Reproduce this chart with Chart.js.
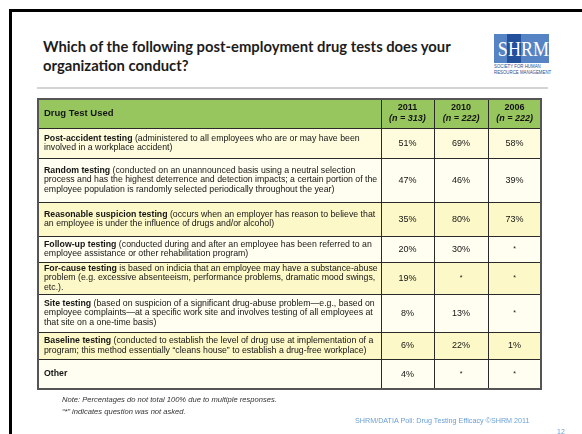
<!DOCTYPE html>
<html><head><meta charset="utf-8">
<script src="https://cdn.jsdelivr.net/npm/chart.js@4"></script>
<style>
html,body{margin:0;padding:0;background:#fff;}
#slide{position:relative;width:582px;height:434px;overflow:hidden;background:#fff;}
#frameTop{position:absolute;left:9px;top:9px;width:573px;height:3px;background:#000;}
#frameLeft{position:absolute;left:9px;top:9px;width:3px;height:425px;background:#000;}
#title{position:absolute;left:43px;top:37px;font:bold 14.8px Lato,sans-serif;color:#1c1c1c;line-height:19px;white-space:nowrap;}
#rule{position:absolute;left:37px;top:87px;width:511px;height:2px;background:#d4d4d4;}
#chartBox{position:absolute;left:0;top:0;width:582px;height:434px;}
#logo{position:absolute;left:494px;top:34px;width:55px;height:29px;background:#5683c4;overflow:hidden;}
#logoH{position:absolute;left:13px;top:0;width:14px;height:29px;background:#23509a;}
#logoText{position:absolute;left:0;top:1px;width:55px;text-align:center;font:21px "Liberation Serif",serif;color:#fff;line-height:28px;transform:scaleX(0.86);}
#logoSub{position:absolute;left:494px;top:64px;font:5.6px "Liberation Sans Narrow","Liberation Sans",sans-serif;color:#2a4a8a;line-height:5.6px;white-space:nowrap;transform:scaleX(0.78);transform-origin:0 0;}
.note{position:absolute;left:62px;font:italic 7.6px "Liberation Sans",sans-serif;color:#333;white-space:nowrap;}
#footer{position:absolute;left:355px;top:416px;font:7.2px "Liberation Sans",sans-serif;color:#6a9fd6;white-space:nowrap;}
#pageNum{position:absolute;left:557px;top:428px;font:7px "Liberation Sans",sans-serif;color:#6a9fd6;}
</style></head>
<body>
<div id="slide">
  <div id="frameTop"></div><div id="frameLeft"></div>
  <div id="title">Which of the following post-employment drug tests does your<br>organization conduct?</div>
  <div id="logo"><div id="logoH"></div><div id="logoText">SHRM</div></div>
  <div id="logoSub">SOCIETY FOR HUMAN<br>RESOURCE MANAGEMENT</div>
  <div id="rule"></div>
  <div id="chartBox"><canvas id="c"></canvas></div>
  <div class="note" style="top:395px">Note: Percentages do not total 100% due to multiple responses.</div>
  <div class="note" style="top:407px">“*” indicates question was not asked.</div>
  <div id="footer">SHRM/DATIA Poll: Drug Testing Efficacy ©SHRM 2011</div>
  <div id="pageNum">12</div>
</div>
<script>
// ---- data ----
const firstHeader = 'Drug Test Used';
const years = ['2011', '2010', '2006'];
const sampleSizes = ['(n = 313)', '(n = 222)', '(n = 222)'];
const testNames = [
  'Post-accident testing',
  'Random testing',
  'Reasonable suspicion testing',
  'Follow-up testing',
  'For-cause testing',
  'Site testing',
  'Baseline testing',
  'Other'
];
const testDescriptions = [
  [' (administered to all employees who are or may have been', 'involved in a workplace accident)'],
  [' (conducted on an unannounced basis using a neutral selection', 'process and has the highest deterrence and detection impacts; a certain portion of the', 'employee population is randomly selected periodically throughout the year)'],
  [' (occurs when an employer has reason to believe that', 'an employee is under the influence of drugs and/or alcohol)'],
  [' (conducted during and after an employee has been referred to an', 'employee assistance or other rehabilitation program)'],
  [' is based on indicia that an employee may have a substance-abuse', 'problem (e.g. excessive absenteeism, performance problems, dramatic mood swings,', 'etc.).'],
  [' (based on suspicion of a significant drug-abuse problem\u2014e.g., based on', 'employee complaints\u2014at a specific work site and involves testing of all employees at', 'that site on a one-time basis)'],
  [' (conducted to establish the level of drug use at implementation of a', 'program; this method essentially \u201ccleans house\u201d to establish a drug-free workplace)'],
  ['']
];
const pct2011 = [51, 47, 35, 20, 19, 8, 6, 4];
const pct2010 = [69, 46, 80, 30, null, 13, 22, null];
const pct2006 = [58, 39, 73, null, null, null, 1, null];
const notAsked = '*';

// ---- layout (not data) ----
const colEdges = [0, 68.2, 78.7, 89.5, 100];           // x-scale units (percent of table width)
const rowHeights = [29, 30, 44, 34, 26, 32, 38, 27, 30];  // y-scale units
const rowEdges = rowHeights.reduce((a, h) => { a.push(a[a.length - 1] + h); return a; }, [0]);
const rowFills = ['#97c65e', '#fefcdc', '#fffef0', '#fcf8c8', '#fffef0', '#fcf8c8', '#fffef0', '#fcf8c8', '#fffef0'];
const FONT = '"Liberation Sans", Arial, sans-serif';

const tablePlugin = {
  id: 'tablePlugin',
  afterDraw(chart) {
    const ctx = chart.ctx, xs = chart.scales.x, ys = chart.scales.y;
    const X = v => xs.getPixelForValue(v), Y = v => ys.getPixelForValue(v);
    const series = chart.data.datasets.map(d => d.data);
    ctx.save();
    for (let r = 0; r < rowHeights.length; r++) {
      const y0 = Y(rowEdges[r]), y1 = Y(rowEdges[r + 1]);
      ctx.fillStyle = rowFills[r];
      ctx.fillRect(X(0), y0, X(100) - X(0), y1 - y0);
    }
    ctx.strokeStyle = '#2a2a2a';
    ctx.lineWidth = 1;
    for (let r = 1; r < rowHeights.length; r++) {
      const y = Math.round(Y(rowEdges[r])) + 0.5;
      ctx.beginPath(); ctx.moveTo(X(0), y); ctx.lineTo(X(100), y); ctx.stroke();
    }
    for (let c = 1; c < colEdges.length - 1; c++) {
      const x = Math.round(X(colEdges[c])) + 0.5;
      ctx.beginPath(); ctx.moveTo(x, Y(0)); ctx.lineTo(x, Y(rowEdges[rowEdges.length - 1])); ctx.stroke();
    }
    ctx.strokeStyle = '#555';
    ctx.lineWidth = 2;
    ctx.strokeRect(X(0), Y(0), X(100) - X(0), Y(rowEdges[rowEdges.length - 1]) - Y(0));

    ctx.fillStyle = '#151515';
    ctx.textBaseline = 'middle';
    const hy0 = Y(0), hy1 = Y(rowEdges[1]);
    ctx.font = 'bold 9.5px ' + FONT;
    ctx.textAlign = 'left';
    ctx.fillText(firstHeader, X(0) + 6, (hy0 + hy1) / 2);
    ctx.textAlign = 'center';
    for (let c = 0; c < years.length; c++) {
      const cx = (X(colEdges[c + 1]) + X(colEdges[c + 2])) / 2;
      ctx.font = 'bold 9px ' + FONT;
      ctx.fillText(years[c], cx, (hy0 + hy1) / 2 - 5.5);
      ctx.font = 'italic bold 9px ' + FONT;
      ctx.fillText(sampleSizes[c], cx, (hy0 + hy1) / 2 + 5.5);
    }
    const lh = 9.7;
    for (let i = 0; i < testNames.length; i++) {
      const y0 = Y(rowEdges[i + 1]), y1 = Y(rowEdges[i + 2]);
      const cy = (y0 + y1) / 2;
      const lines = testDescriptions[i];
      const startY = cy - (lines.length - 1) * lh / 2;
      ctx.textAlign = 'left';
      const tx = X(0) + 6;
      ctx.font = 'bold 8.75px ' + FONT;
      ctx.fillText(testNames[i], tx, startY);
      const bw = ctx.measureText(testNames[i]).width;
      ctx.font = '8.75px ' + FONT;
      ctx.fillText(lines[0], tx + bw, startY);
      for (let l = 1; l < lines.length; l++) ctx.fillText(lines[l], tx, startY + l * lh);
      ctx.textAlign = 'center';
      for (let c = 0; c < series.length; c++) {
        const cx = (X(colEdges[c + 1]) + X(colEdges[c + 2])) / 2;
        const v = series[c][i];
        if (v === null) { ctx.font = '7px ' + FONT; ctx.fillText(notAsked, cx, cy); }
        else { ctx.font = '9px ' + FONT; ctx.fillText(v + '%', cx, cy + 0.5); }
      }
    }
    ctx.restore();
  }
};

new Chart(document.getElementById('c'), {
  type: 'scatter',
  data: {
    labels: testNames,
    datasets: [
      { label: years[0], data: pct2011, pointRadius: 0 },
      { label: years[1], data: pct2010, pointRadius: 0 },
      { label: years[2], data: pct2006, pointRadius: 0 }
    ]
  },
  options: {
    responsive: true, maintainAspectRatio: false, animation: false,
    layout: { padding: { left: 38, top: 99, right: 41, bottom: 45 } },
    plugins: { legend: { display: false }, tooltip: { enabled: false } },
    scales: {
      x: { type: 'linear', display: false, min: 0, max: 100 },
      y: { type: 'linear', display: false, min: 0, max: rowEdges[rowEdges.length - 1], reverse: true }
    }
  },
  plugins: [tablePlugin]
});
</script>
</body></html>
